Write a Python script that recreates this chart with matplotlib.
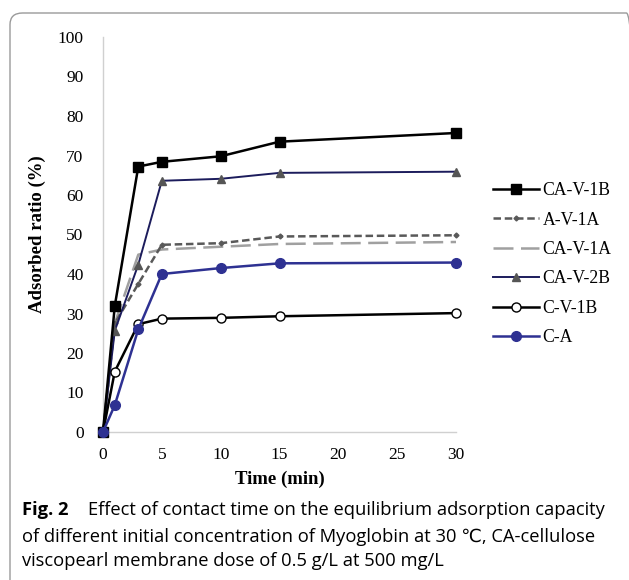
import matplotlib.pyplot as plt
from matplotlib.patches import FancyBboxPatch

# данные
time_min = [0, 1, 3, 5, 10, 15, 30]
ca_v_1b = [0, 31.9, 67.2, 68.4, 69.8, 73.5, 75.7]
a_v_1a = [0, 27.5, 37.5, 47.4, 47.8, 49.5, 49.8]
ca_v_1a = [0, 27.5, 44.9, 46.2, 46.9, 47.6, 48.1]
ca_v_2b = [0, 25.6, 42.4, 63.6, 64.1, 65.6, 65.9]
c_v_1b = [0, 15.3, 27.3, 28.7, 28.9, 29.3, 30.1]
c_a = [0, 6.8, 26.0, 40.0, 41.5, 42.7, 42.9]

x_ticks = [0, 5, 10, 15, 20, 25, 30]
y_ticks = list(range(0, 101, 10))

caption_bold = "Fig. 2"
caption_text = ("Effect of contact time on the equilibrium adsorption capacity\n"
                "of different initial concentration of Myoglobin at 30 \u2103, CA-cellulose\n"
                "viscopearl membrane dose of 0.5 g/L at 500 mg/L")

fig = plt.figure(figsize=(6.29, 5.8), dpi=100)

# рамка вокруг рисунка
frame = FancyBboxPatch((10 / 629, -0.05), 1.0, 1 - 13 / 580 + 0.05,
                       boxstyle="round,pad=0,rounding_size=0.02",
                       transform=fig.transFigure, fill=False,
                       edgecolor="#9a9a9a", linewidth=1.0)
fig.patches.append(frame)

ax = fig.add_axes([103 / 629, 1 - 432 / 580, 353 / 629, 395 / 580])

serif = "Liberation Serif"
cap_font = ["Open Sans", "DejaVu Sans"]

ax.plot(time_min, ca_v_1b, color="black", lw=1.8, marker="s", ms=7,
        label="CA-V-1B", zorder=5, clip_on=False)
ax.plot(time_min, a_v_1a, color="#595959", lw=1.8, ls=(0, (3, 1.5)),
        marker="D", ms=2.5, label="A-V-1A", zorder=3, clip_on=False)
ax.plot(time_min, ca_v_1a, color="#a0a0a0", lw=1.8, ls=(0, (8, 3)),
        label="CA-V-1A", zorder=2, clip_on=False)
ax.plot(time_min, ca_v_2b, color="#1c1c5c", lw=1.4, marker="^", ms=6,
        mfc="#555555", mec="#555555", label="CA-V-2B", zorder=4, clip_on=False)
ax.plot(time_min, c_v_1b, color="black", lw=1.8, marker="o", ms=6.5,
        mfc="white", mec="black", mew=1.0, label="C-V-1B", zorder=4,
        clip_on=False)
ax.plot(time_min, c_a, color="#2e3192", lw=1.8, marker="o", ms=7,
        label="C-A", zorder=6, clip_on=False)

ax.set_xlim(0, 30)
ax.set_ylim(0, 100)
ax.set_xticks(x_ticks)
ax.set_yticks(y_ticks)
ax.set_xticklabels([str(t) for t in x_ticks], fontfamily=serif, fontsize=12.5)
ax.set_yticklabels([str(t) for t in y_ticks], fontfamily=serif, fontsize=12.5)
ax.tick_params(axis="x", length=0, pad=11)
ax.tick_params(axis="y", length=0, pad=14)

for side in ["top", "right"]:
    ax.spines[side].set_visible(False)
for side in ["left", "bottom"]:
    ax.spines[side].set_color("#d0d0d0")
    ax.spines[side].set_linewidth(1.0)

ax.set_xlabel("Time (min)", fontfamily=serif, fontsize=13.5, fontweight="bold",
              labelpad=5)
ax.set_ylabel("Adsorbed ratio (%)", fontfamily=serif, fontsize=13.5,
              fontweight="bold", labelpad=8)

ax.legend(loc="upper left", bbox_to_anchor=(1.085, 0.65), frameon=False,
          prop={"family": serif, "size": 12.7}, handlelength=2.6,
          labelspacing=0.7, handletextpad=0.2, borderaxespad=0)

fig.text(22 / 629, 1 - 510 / 580, caption_bold, fontfamily=cap_font,
         fontsize=13.2, fontweight="bold", va="center")
fig.text(88 / 629, 1 - 510 / 580, caption_text.split("\n")[0],
         fontfamily=cap_font, fontsize=13.2, va="center")
fig.text(22 / 629, 1 - 549 / 580, "\n".join(caption_text.split("\n")[1:]),
         fontfamily=cap_font, fontsize=13.2, va="center", linespacing=1.45)

fig.savefig("out.png", dpi=100)
